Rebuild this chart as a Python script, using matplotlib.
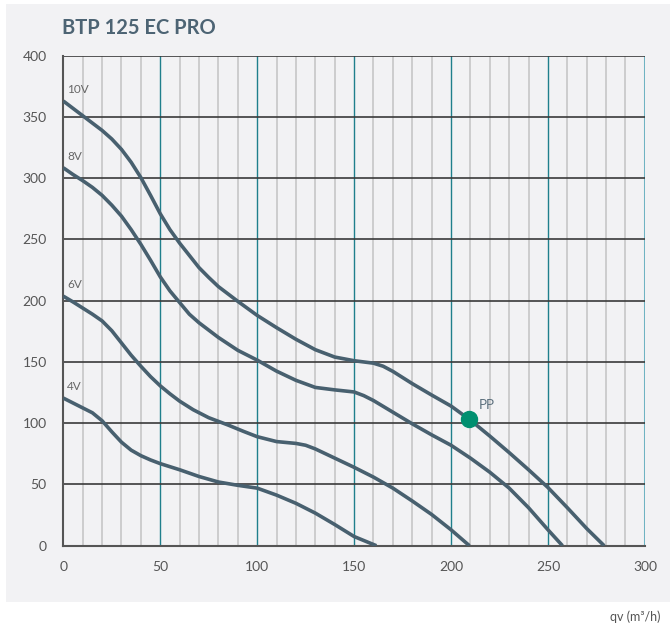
import matplotlib.pyplot as plt
from matplotlib.patches import Rectangle

# fan curves (qv in m3/h, pressure in Pa)
q_10v = [0, 5, 10, 15, 20, 25, 30, 35, 40, 45, 50, 55, 60, 65, 70, 75, 80, 90, 100,
         110, 120, 130, 140, 150, 160, 165, 170, 180, 190, 200, 210, 220, 230, 240,
         250, 260, 270, 279]
p_10v = [363, 357, 351, 345, 339, 332, 323.5, 313, 300.5, 286, 271, 258, 247, 237,
         227, 219, 211.5, 199.5, 188, 178, 168.5, 160, 154, 151, 149, 146.5, 142.3,
         132.3, 123, 114, 102.5, 89.5, 76, 62, 47.5, 31, 14, 0]

q_8v = [0, 5, 10, 15, 20, 25, 30, 35, 40, 45, 50, 55, 60, 65, 70, 80, 90, 100, 110,
        120, 130, 140, 150, 155, 160, 170, 180, 190, 200, 210, 220, 230, 240, 250,
        257.5]
p_8v = [308.5, 303, 298, 292.5, 286, 278, 269, 258, 246, 233, 219.5, 208, 198.5, 189,
        182, 170, 159.5, 151.5, 142.5, 135, 129.2, 127.2, 125.5, 122.5, 118.5, 109,
        99.5, 90.5, 82, 71.5, 60, 47, 31, 13, 0]

q_6v = [0, 5, 10, 15, 20, 25, 30, 35, 40, 45, 50, 55, 60, 67, 75, 85, 93, 100, 110,
        120, 125, 130, 140, 150, 160, 170, 180, 190, 200, 209.5]
p_6v = [203.7, 199, 194, 189, 183.5, 175.5, 165.5, 155.5, 146.5, 138, 130.5, 124, 118,
        111, 104.5, 98.5, 93.3, 89, 85, 83.5, 82, 79, 71.5, 64, 56, 47, 36.5, 25.5,
        13, 0]

q_4v = [0, 5, 10, 15, 20, 25, 30, 35, 40, 45, 50, 60, 70, 80, 90, 100, 110, 120,
        130, 140, 150, 161.5]
p_4v = [120.5, 116.5, 112.5, 108.5, 102, 93, 84.5, 78, 73.5, 70, 67, 62, 56.5, 52,
        49.3, 47, 41.3, 34.6, 26.6, 17.3, 7.5, 0]

curves = [("10V", q_10v, p_10v), ("8V", q_8v, p_8v), ("6V", q_6v, p_6v), ("4V", q_4v, p_4v)]

pp_q = 209.2
pp_p = 103.3

x_ticks = [0, 50, 100, 150, 200, 250, 300]
y_ticks = [0, 50, 100, 150, 200, 250, 300, 350, 400]

plt.rcParams['font.family'] = ['Lato', 'DejaVu Sans']

fig = plt.figure(figsize=(6.7, 6.3), dpi=100)
fig.patch.set_facecolor('white')
# light grey panel behind the chart
fig.patches.append(Rectangle((6 / 670, 1 - 602 / 630), 664 / 670, 598 / 630,
                             transform=fig.transFigure, facecolor='#f2f2f4',
                             edgecolor='none', zorder=-10))

ax = fig.add_axes([0.0945, 0.1338, 0.868, 0.7778])
ax.set_facecolor('#f2f2f4')
ax.set_xlim(0, 300)
ax.set_ylim(0, 400)

# grid
for x in range(10, 300, 10):
    if x % 50 == 0:
        ax.axvline(x, color='#1f7f8c', lw=1.0, zorder=1)
    else:
        ax.axvline(x, color='#cacaca', lw=1.3, zorder=1)
ax.axvline(300, color='#6fb3c2', lw=2.2, zorder=1)
for y in range(50, 401, 50):
    ax.axhline(y, color='#3a3a3a', lw=1.2, zorder=1)

for s in ['top', 'right']:
    ax.spines[s].set_visible(False)
ax.spines['left'].set_color('#555555')
ax.spines['bottom'].set_color('#555555')
ax.spines['left'].set_linewidth(1.5)
ax.spines['bottom'].set_linewidth(1.5)

for name, q, p in curves:
    ax.plot(q, p, color='#48606f', lw=2.6, solid_capstyle='butt',
            solid_joinstyle='round', zorder=3)
    ax.text(2, p[0] + 5, name, fontsize=8.5, color='#666666', va='bottom', ha='left')

ax.plot(pp_q, pp_p, 'o', color='#008f70', markersize=11.5, zorder=4)
ax.text(pp_q + 5, pp_p + 7, 'PP', fontsize=9.5, color='#5a6e7c', va='bottom')

ax.set_xticks(x_ticks)
ax.set_yticks(y_ticks)
ax.tick_params(length=0, labelsize=10, labelcolor='#555555')
ax.tick_params(axis='x', pad=11)
ax.tick_params(axis='y', pad=12)

fig.text(62 / 670, 1 - 28 / 630, 'BTP 125 EC PRO', fontsize=14.5, fontweight='bold',
         color='#4d6474', va='center', ha='left')
fig.text(660 / 670, 1 - 617 / 630, 'qv (m³/h)', fontsize=9, color='#555555',
         va='center', ha='right')

fig.savefig('out.png', dpi=100)
